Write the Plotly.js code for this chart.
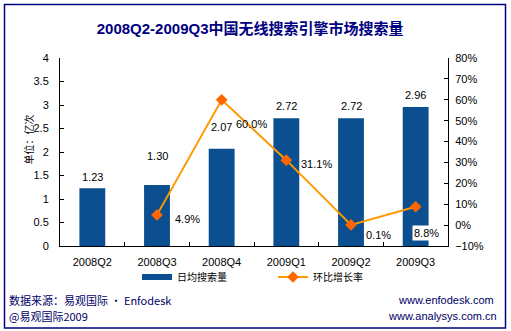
<!DOCTYPE html>
<html><head><meta charset="utf-8">
<script src="https://cdn.plot.ly/plotly-3.0.1.min.js"></script>
<style>html,body{margin:0;padding:0;background:#fff;}#chart{width:511px;height:331px;}</style>
</head><body><div id="chart"></div>
<script>
const categories = ['2008Q2','2008Q3','2008Q4','2009Q1','2009Q2','2009Q3'];
const dailySearches = [1.23, 1.30, 2.07, 2.72, 2.72, 2.96];
const growthRate = [null, 4.9, 60.0, 31.1, 0.1, 8.8];
const barLabels = ['1.23','1.30','2.07','2.72','2.72','2.96'];
const growthLabels = ['', '4.9%', '60.0%', '31.1%', '0.1%', '8.8%'];

// label placement offsets (pixels), kept separate from data
const barLabelShift = [11, 29, 22, 12, 12, 12];
const growthLabelShift = [[0,0],[30,-4],[30,-24],[30,-4],[27,-10],[11,-26]];

const F = 'Liberation Sans, Arial, Noto Sans CJK SC, sans-serif';
const CJK = 'Noto Sans CJK SC, Liberation Sans, sans-serif';
const TF = 'Liberation Sans, Noto Sans CJK SC, sans-serif';
const L = 60, R = 448, T = 58, B = 246, W = 511, H = 331;
const px = x => (x - L) / (R - L);
const py = y => (B - y) / (B - T);

const annotations = [];
categories.forEach((c, i) => {
  annotations.push({x: c, y: dailySearches[i], xref: 'x', yref: 'y', text: barLabels[i],
    showarrow: false, yshift: barLabelShift[i], font: {family: F, size: 11, color: '#000'}});
  if (growthRate[i] !== null) {
    annotations.push({x: c, y: growthRate[i], xref: 'x', yref: 'y2', text: growthLabels[i],
      showarrow: false, xshift: growthLabelShift[i][0], yshift: growthLabelShift[i][1],
      bgcolor: i === categories.length - 1 ? '#ffffff' : 'rgba(0,0,0,0)',
      font: {family: F, size: 11, color: '#000'}});
  }
});
annotations.push({xref: 'paper', yref: 'paper', x: px(18), y: py(140), text: '单位：亿次',
  textangle: -90, showarrow: false, font: {family: CJK, size: 10, color: '#000'}});
annotations.push({xref: 'paper', yref: 'paper', x: px(7), y: py(300), xanchor: 'left', yanchor: 'middle',
  text: '数据来源：易观国际 · Enfodesk', showarrow: false, font: {family: CJK, size: 11, color: '#000066'}});
annotations.push({xref: 'paper', yref: 'paper', x: px(7), y: py(316), xanchor: 'left', yanchor: 'middle',
  text: '@易观国际2009', showarrow: false, font: {family: CJK, size: 11, color: '#000066'}});
annotations.push({xref: 'paper', yref: 'paper', x: px(496), y: py(300), xanchor: 'right', yanchor: 'middle',
  text: 'www.enfodesk.com', showarrow: false, font: {family: F, size: 11, color: '#000066'}});
annotations.push({xref: 'paper', yref: 'paper', x: px(499), y: py(316), xanchor: 'right', yanchor: 'middle',
  text: 'www.analysys.com.cn', showarrow: false, font: {family: F, size: 11, color: '#000066'}});

const data = [
  {type: 'bar', x: categories, y: dailySearches, name: '日均搜索量', showlegend: false,
   marker: {color: '#0B4F91'}, width: 0.4, hoverinfo: 'skip'},
  {type: 'scatter', mode: 'lines', x: [null], y: [null], name: '日均搜索量', legend: 'legend',
   line: {color: '#0B4F91', width: 6}, hoverinfo: 'skip'},
  {type: 'scatter', mode: 'lines+markers', x: categories, y: growthRate, yaxis: 'y2', name: '环比增长率',
   legend: 'legend2',
   line: {color: '#FF9900', width: 2}, marker: {symbol: 'diamond', size: 9, color: '#FF6600'},
   connectgaps: false, hoverinfo: 'skip'}
];

const legendBase = {orientation: 'h', xanchor: 'left', yanchor: 'middle',
  font: {family: CJK, size: 10, color: '#000'}, bgcolor: 'rgba(0,0,0,0)', itemclick: false,
  borderwidth: 0, tracegroupgap: 0};

const layout = {
  width: W, height: H,
  margin: {l: L, r: W - R, t: T, b: H - B, pad: 0},
  paper_bgcolor: '#fff', plot_bgcolor: '#fff',
  showlegend: true,
  legend: Object.assign({}, legendBase, {x: px(137), y: py(277)}),
  legend2: Object.assign({}, legendBase, {x: px(273), y: py(277)}),
  title: {text: '<b>2008Q2-2009Q3中国无线搜索引擎市场搜索量</b>', x: 0.49, xref: 'paper', y: py(22) ,
    yref: 'paper', yanchor: 'middle', font: {family: TF, size: 15, color: '#000080'}},
  xaxis: {type: 'category', showline: true, linecolor: '#000', linewidth: 1,
    ticks: 'inside', tickson: 'boundaries', ticklen: 4, tickcolor: '#000',
    showgrid: false, tickfont: {family: F, size: 11, color: '#000'}, ticklabelstandoff: 6,
    range: [-0.5, 5.5]},
  yaxis: {range: [0, 4], dtick: 0.5, showline: true, linecolor: '#000', ticks: 'inside', ticklen: 4,
    tickcolor: '#000', showgrid: false, zeroline: false, tickfont: {family: F, size: 11, color: '#000'},
    ticklabelstandoff: 8},
  yaxis2: {range: [-10, 80], dtick: 10, ticksuffix: '%', overlaying: 'y', side: 'right',
    showline: true, linecolor: '#000', ticks: 'inside', ticklen: 4, tickcolor: '#000',
    showgrid: false, zeroline: false, tickfont: {family: F, size: 11, color: '#000'},
    ticklabelstandoff: 4},
  annotations: annotations,
  shapes: [{type: 'rect', xref: 'paper', yref: 'paper', x0: px(4.5), x1: px(505.5), y0: py(4.5), y1: py(328),
    line: {color: '#000080', width: 1.5}, fillcolor: 'rgba(0,0,0,0)', layer: 'above'}]
};

Plotly.newPlot('chart', data, layout, {displayModeBar: false, staticPlot: true});
</script></body></html>
